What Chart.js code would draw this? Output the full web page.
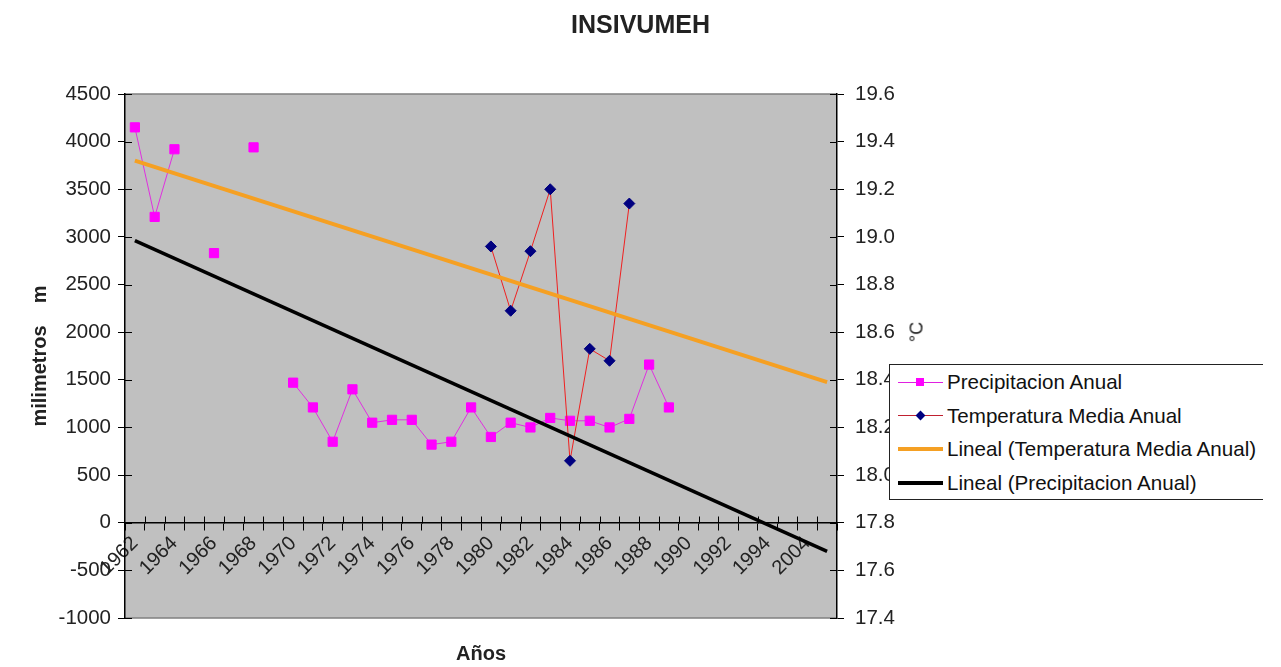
<!DOCTYPE html>
<html>
<head>
<meta charset="utf-8">
<title>INSIVUMEH</title>
<script src="https://cdn.jsdelivr.net/npm/chart.js@4.4.1/dist/chart.umd.min.js"></script>
<style>
  html, body { margin: 0; padding: 0; background: #fff; }
  #wrap { position: relative; width: 1281px; height: 667px; overflow: hidden; }
  #legend {
    position: absolute; left: 889px; top: 364px; width: 373px; height: 134px;
    border: 1.5px solid #222; border-right: none; background: #fff;
    font: 20.6px 'Liberation Sans', Arial, sans-serif; color: #111;
  }
  #legend .row { position: absolute; left: 0; width: 373px; height: 34px; line-height: 34px; }
  #legend .key { position: absolute; left: 8px; top: 17px; width: 45px; }
  #legend .ln { position: absolute; left: 0; width: 45px; }
  #legend .mk { position: absolute; left: 17px; }
  #legend .txt { position: absolute; left: 57px; top: 0; white-space: nowrap; }
  #degC {
    position: absolute; left: 917px; top: 332px;
    transform: translate(-50%, -50%) rotate(-90deg);
    font: 18px 'Liberation Sans', Arial, sans-serif; color: #222; white-space: nowrap;
  }
</style>
</head>
<body>
<div id="wrap">
  <canvas id="chart" width="1281" height="667"></canvas>
  <div id="degC">°C</div>
  <div id="legend">
    <div class="row" style="top:0px">
      <div class="key">
        <div class="ln" style="top:-0.5px;height:1px;background:#e020e0"></div>
        <div class="mk" style="top:-4px;left:18px;width:8px;height:8px;background:#ff00ff"></div>
      </div>
      <div class="txt">Precipitacion Anual</div>
    </div>
    <div class="row" style="top:33.7px">
      <div class="key">
        <div class="ln" style="top:-0.5px;height:1px;background:#c02030"></div>
        <div class="mk" style="top:-3.5px;left:18.5px;width:7px;height:7px;background:#000080;transform:rotate(45deg)"></div>
      </div>
      <div class="txt">Temperatura Media Anual</div>
    </div>
    <div class="row" style="top:67.4px">
      <div class="key">
        <div class="ln" style="top:-2px;height:4px;background:#f5a023"></div>
      </div>
      <div class="txt">Lineal (Temperatura Media Anual)</div>
    </div>
    <div class="row" style="top:101.1px">
      <div class="key">
        <div class="ln" style="top:-2px;height:4px;background:#000"></div>
      </div>
      <div class="txt">Lineal (Precipitacion Anual)</div>
    </div>
  </div>
</div>

<script>
// Categories (years) as they appear on the axis
const years = [
    '1962', '1963', '1964', '1965', '1966', '1967', '1968', '1969', '1970', '1971',
    '1972', '1973', '1974', '1975', '1976', '1977', '1978', '1979', '1980', '1981',
    '1982', '1983', '1984', '1985', '1986', '1987', '1988', '1989', '1990', '1991',
    '1992', '1993', '1994', '1995', '2004', '2005'
];

// Annual precipitation (mm), left axis
const precipitacion = [
    4150, 3210, 3920, null, 2830, null, 3940, null, 1470, 1210,
    850, 1400, 1050, 1080, 1080, 820, 850, 1210, 900, 1050,
    1000, 1100, 1070, 1070, 1000, 1090, 1660, 1210, null, null,
    null, null, null, null, null, null
];

// Mean annual temperature (°C), right axis
const temperatura = [
    null, null, null, null, null, null, null, null, null, null,
    null, null, null, null, null, null, null, null, 18.96, 18.69,
    18.94, 19.20, 18.06, 18.53, 18.48, 19.14, null, null, null, null,
    null, null, null, null, null, null
];

// Linear trend lines, read at first and last category
const tendenciaTemp = [19.32, null, null, null, null, null, null, null, null, null,
    null, null, null, null, null, null, null, null, null, null,
    null, null, null, null, null, null, null, null, null, null,
    null, null, null, null, null, 18.39];
const tendenciaPrecip = [2960, null, null, null, null, null, null, null, null, null,
    null, null, null, null, null, null, null, null, null, null,
    null, null, null, null, null, null, null, null, null, null,
    null, null, null, null, null, -300];

const FONT = "'Liberation Sans', Arial, sans-serif";
const TEXT = '#222';

// Gray plot area with a thin gray frame
const plotBackground = {
    id: 'plotBackground',
    beforeDraw(chart) {
        const { ctx, chartArea: a } = chart;
        ctx.save();
        ctx.fillStyle = '#c0c0c0';
        ctx.fillRect(a.left, a.top, a.width, a.height);
        ctx.strokeStyle = '#808080';
        ctx.lineWidth = 1.5;
        ctx.beginPath();
        ctx.moveTo(a.left, a.top); ctx.lineTo(a.right, a.top);
        ctx.moveTo(a.left, a.bottom); ctx.lineTo(a.right, a.bottom);
        ctx.stroke();
        ctx.restore();
    }
};

// Tick marks cross the axis lines (inner half)
const crossTicks = {
    id: 'crossTicks',
    beforeDatasetsDraw(chart) {
        const { ctx, scales: { x, y, y1 } } = chart;
        const len = 7;
        ctx.save();
        ctx.strokeStyle = '#000';
        ctx.lineWidth = 1;
        ctx.beginPath();
        const y0 = Math.round(y.getPixelForValue(0)) + 0.5;
        for (let i = 1; i < x.ticks.length; i++) {
            const px = Math.round((x.getPixelForTick(i) + x.getPixelForTick(i - 1)) / 2) + 0.5;
            ctx.moveTo(px, y0); ctx.lineTo(px, y0 - len);
        }
        y.ticks.forEach((t, i) => {
            const py = Math.round(y.getPixelForTick(i)) + 0.5;
            ctx.moveTo(y.right, py); ctx.lineTo(y.right + len, py);
        });
        y1.ticks.forEach((t, i) => {
            const py = Math.round(y1.getPixelForTick(i)) + 0.5;
            ctx.moveTo(y1.left, py); ctx.lineTo(y1.left - len, py);
        });
        ctx.stroke();
        ctx.restore();
    }
};

new Chart(document.getElementById('chart'), {
    type: 'line',
    data: {
        labels: years,
        datasets: [
            {
                label: 'Lineal (Temperatura Media Anual)',
                data: tendenciaTemp,
                yAxisID: 'y1',
                borderColor: '#f5a023',
                borderWidth: 4,
                pointRadius: 0,
                spanGaps: true,
                order: 0
            },
            {
                label: 'Lineal (Precipitacion Anual)',
                data: tendenciaPrecip,
                yAxisID: 'y',
                borderColor: '#000',
                borderWidth: 3.5,
                pointRadius: 0,
                spanGaps: true,
                order: 1
            },
            {
                label: 'Temperatura Media Anual',
                data: temperatura,
                yAxisID: 'y1',
                borderColor: '#f02020',
                borderWidth: 1,
                backgroundColor: '#000080',
                pointBorderColor: '#000080',
                pointStyle: 'rectRot',
                pointRadius: 5.5,
                pointBorderWidth: 1,
                spanGaps: false,
                order: 2
            },
            {
                label: 'Precipitacion Anual',
                data: precipitacion,
                yAxisID: 'y',
                borderColor: '#e030e0',
                borderWidth: 1,
                backgroundColor: '#ff00ff',
                pointBorderColor: '#ff00ff',
                pointStyle: 'rect',
                pointRadius: 6.5,
                pointBorderWidth: 1,
                spanGaps: false,
                order: 3
            }
        ]
    },
    options: {
        responsive: false,
        animation: false,
        layout: { padding: 0 },
        plugins: {
            legend: { display: false },
            tooltip: { enabled: false },
            title: {
                display: true,
                text: 'INSIVUMEH',
                color: TEXT,
                font: { family: FONT, size: 25, weight: 'bold' },
                padding: { top: 11, bottom: 53 }
            },
            subtitle: {
                display: true,
                position: 'bottom',
                fullSize: false,
                text: 'Años',
                color: TEXT,
                font: { family: FONT, size: 20, weight: 'bold' },
                padding: { top: 24, bottom: 1 }
            }
        },
        scales: {
            x: {
                type: 'category',
                position: { y: 0 },
                offset: true,
                afterFit: s => { s.height = 0; },
                grid: { offset: true, drawOnChartArea: false, color: '#000', tickLength: 7 },
                border: { color: '#000', width: 1.5 },
                ticks: {
                    autoSkip: false,
                    maxRotation: 45,
                    minRotation: 45,
                    padding: 2,
                    color: TEXT,
                    font: { family: FONT, size: 20 },
                    callback: function (v, i) { return i % 2 === 0 ? this.getLabelForValue(v) : ''; }
                }
            },
            y: {
                position: 'left',
                min: -1000,
                max: 4500,
                afterFit: s => { s.width = 125; },
                grid: { drawOnChartArea: false, color: '#000', tickLength: 7 },
                border: { color: '#000', width: 1.5 },
                ticks: {
                    stepSize: 500,
                    padding: 7,
                    color: TEXT,
                    font: { family: FONT, size: 20.5 },
                    callback: v => String(v)
                },
                title: {
                    display: true,
                    text: 'milimetros    m',
                    color: TEXT,
                    font: { family: FONT, size: 20, weight: 'bold' },
                    padding: { top: 28, bottom: 0 }
                }
            },
            y1: {
                position: 'right',
                min: 17.4,
                max: 19.6,
                afterFit: s => { s.width = 444; },
                grid: { drawOnChartArea: false, color: '#000', tickLength: 7 },
                border: { color: '#000', width: 1.5 },
                ticks: {
                    stepSize: 0.2,
                    padding: 11,
                    color: TEXT,
                    font: { family: FONT, size: 20.5 },
                    callback: v => v.toFixed(1)
                }
            }
        }
    },
    plugins: [plotBackground, crossTicks]
});
</script>
</body>
</html>
